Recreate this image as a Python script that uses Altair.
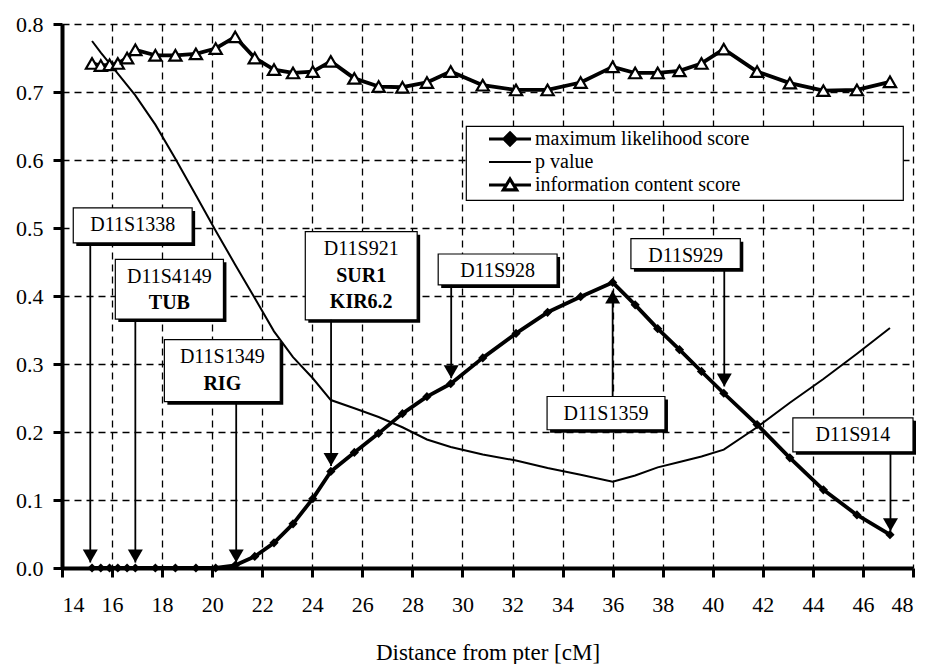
import altair as alt
import pandas as pd

# ---------------- data ----------------
positions_cm = [15.2, 15.55, 15.9, 16.23, 16.6, 16.93, 17.73, 18.53, 19.35, 20.14,
                20.92, 21.7, 22.47, 23.23, 24.02, 24.74, 25.68, 26.65, 27.6, 28.58,
                29.53, 30.81, 32.14, 33.4, 34.72, 36.0, 36.9, 37.8, 38.67, 39.55,
                40.44, 41.77, 43.08, 44.42, 45.76, 47.08]
ml_score = [0, 0, 0, 0, 0, 0, 0, 0, 0, 0,
            0.004, 0.017, 0.037, 0.065, 0.102, 0.142, 0.170, 0.198, 0.227, 0.252,
            0.271, 0.309, 0.345, 0.376, 0.399, 0.420, 0.387, 0.352, 0.321, 0.289,
            0.257, 0.211, 0.162, 0.115, 0.078, 0.049]
p_value = [0.775, 0.758, 0.742, 0.727, 0.710, 0.695, 0.652, 0.602, 0.548, 0.496,
           0.446, 0.397, 0.348, 0.310, 0.279, 0.247, 0.235, 0.222, 0.207, 0.189,
           0.178, 0.167, 0.158, 0.147, 0.137, 0.127, 0.136, 0.148, 0.156, 0.164,
           0.174, 0.207, 0.243, 0.278, 0.315, 0.353]
info_score = [0.742, 0.739, 0.740, 0.742, 0.750, 0.762, 0.754, 0.754, 0.756, 0.764,
              0.781, 0.750, 0.733, 0.728, 0.730, 0.745, 0.720, 0.708, 0.707, 0.714,
              0.730, 0.710, 0.703, 0.703, 0.714, 0.737, 0.728, 0.728, 0.731, 0.742,
              0.763, 0.730, 0.713, 0.702, 0.703, 0.715]

series_names = ["maximum likelihood score", "p value", "information content score"]

# marker annotations (positions in cM / score units)
marker_names = ["D11S1338", "D11S4149", "D11S1349", "D11S921", "D11S928",
                "D11S1359", "D11S929", "D11S914"]
marker_genes = ["", "TUB", "RIG", "SUR1\nKIR6.2", "", "", "", ""]
marker_cm = [15.13, 16.93, 20.96, 24.75, 29.55, 36.0, 40.46, 47.1]
arrow_tip = [0.008, 0.008, 0.008, 0.150, 0.279, 0.408, 0.267, 0.054]
box_left = [14.45, 16.13, 18.09, 23.72, 29.03, 33.38, 36.73, 43.2]
box_right = [19.2, 20.45, 22.72, 28.19, 33.78, 38.09, 41.1, 48.0]
box_top = [0.5295, 0.454, 0.3357, 0.4946, 0.4618, 0.2522, 0.4843, 0.2209]
box_bottom = [0.478, 0.366, 0.2446, 0.365, 0.4163, 0.2033, 0.4402, 0.1709]

x_ticks = list(range(14, 49, 2))
y_ticks = [0.0, 0.1, 0.2, 0.3, 0.4, 0.5, 0.6, 0.7, 0.8]

# ---------------- tables ----------------
n = len(positions_cm)
long_df = pd.DataFrame({
    "cM": positions_cm * 3,
    "value": ml_score + p_value + info_score,
    "series": [series_names[0]] * n + [series_names[1]] * n + [series_names[2]] * n,
})
ml_df = pd.DataFrame({"cM": positions_cm, "value": ml_score})
p_df = pd.DataFrame({"cM": positions_cm, "value": p_value})
info_df = pd.DataFrame({"cM": positions_cm, "value": info_score})

ann = pd.DataFrame({
    "name": marker_names, "genes": marker_genes, "cM": marker_cm, "tip": arrow_tip,
    "left": box_left, "right": box_right, "top": box_top, "bottom": box_bottom,
})
ann["xc"] = (ann["left"] + ann["right"]) / 2
ann["start"] = [b if t < b else tp for t, b, tp in zip(ann["tip"], ann["bottom"], ann["top"])]

FONT = "Liberation Serif"
XTITLE = "Distance from pter [cM]"
xscale = alt.Scale(domain=[14, 48], nice=False, zero=False)
yscale = alt.Scale(domain=[0, 0.8], nice=False)


def X(field):
    return alt.X(f"{field}:Q", scale=xscale,
                 axis=alt.Axis(values=x_ticks, format="d", title=XTITLE))


def Y(field):
    return alt.Y(f"{field}:Q", scale=yscale,
                 axis=alt.Axis(values=y_ticks, format=".1f", title=None))


ml_path = "M-3.5,0L3.5,0M0,-1L1,0L0,1L-1,0Z"
p_path = "M-3.5,0L3.5,0"
ic_path = "M-3.5,0L-0.61,0M0.61,0L3.5,0M0,-1L1.1,0.8L-1.1,0.8Z"

# the legend frame in the figure is much wider than its labels: an invisible
# title on its right side reserves that empty room
legend = alt.Legend(
    title="mmmmmmmmm", titleOrient="right", titleOpacity=0, titleFont=FONT,
    titleFontSize=20, titlePadding=1,
    orient="none", legendX=404, legendY=102,
    fillColor="white", strokeColor="black", padding=3,
    rowPadding=0, labelFont=FONT, labelFontSize=20, labelColor="black",
    labelLimit=1000, symbolSize=144, symbolOffset=31, labelOffset=15,
    symbolOpacity=1,
)

# legend-only layer: no rows drawn, scales with explicit domains drive the legend
legend_layer = alt.Chart(long_df).transform_filter("false").mark_point(
    filled=True, opacity=1
).encode(
    x=X("cM"), y=Y("value"),
    shape=alt.Shape("series:N", scale=alt.Scale(domain=series_names,
                                                 range=[ml_path, p_path, ic_path]),
                    legend=legend),
    fill=alt.Fill("series:N", scale=alt.Scale(domain=series_names,
                                               range=["black", "transparent", "white"]),
                  legend=legend),
    stroke=alt.Stroke("series:N", scale=alt.Scale(domain=series_names,
                                                   range=["black", "black", "black"]),
                      legend=legend),
    strokeWidth=alt.StrokeWidth("series:N",
                                scale=alt.Scale(type="ordinal", domain=series_names,
                                                range=[3.2, 2.0, 3.2]),
                                legend=legend),
)

p_line = alt.Chart(p_df).mark_line(color="black", strokeWidth=2.0).encode(
    x=X("cM"), y=Y("value"))
ml_line = alt.Chart(ml_df).mark_line(color="black", strokeWidth=3.8,
                                     strokeJoin="round").encode(x=X("cM"), y=Y("value"))
info_line = alt.Chart(info_df).mark_line(color="black", strokeWidth=3.8,
                                         strokeJoin="round").encode(x=X("cM"), y=Y("value"))

ml_points = alt.Chart(ml_df).mark_point(
    shape="diamond", filled=True, size=85, color="black", opacity=1
).encode(x=X("cM"), y=Y("value"))

info_points = alt.Chart(info_df).mark_point(
    shape="triangle-up", filled=True, fill="white", stroke="black",
    strokeWidth=2.2, size=150, opacity=1
).encode(x=X("cM"), y=Y("value"))

shadows = alt.Chart(ann).mark_rect(
    fill="black", xOffset=3, x2Offset=3, yOffset=3, y2Offset=3
).encode(x=X("left"), x2="right:Q", y=Y("top"), y2="bottom:Q")

boxes = alt.Chart(ann).mark_rect(
    fill="white", stroke="black", strokeWidth=1.2
).encode(x=X("left"), x2="right:Q", y=Y("top"), y2="bottom:Q")

names_text = alt.Chart(ann).mark_text(
    font=FONT, fontSize=20, baseline="top", align="center", dy=7.5, color="black"
).encode(x=X("xc"), y=Y("top"), text="name:N")

genes_text = alt.Chart(ann).transform_filter("datum.genes != ''").mark_text(
    font=FONT, fontSize=20, fontWeight="bold", baseline="top", align="center",
    dy=34, lineBreak="\n", lineHeight=26.5, color="black"
).encode(x=X("xc"), y=Y("top"), text="genes:N")

arrows = alt.Chart(ann).mark_rule(color="black", strokeWidth=1.8).encode(
    x=X("cM"), y=Y("start"), y2="tip:Q")

heads_down = alt.Chart(ann).transform_filter("datum.tip < datum.start").mark_point(
    shape="triangle-down", filled=True, size=225, color="black", opacity=1, yOffset=-6.5
).encode(x=X("cM"), y=Y("tip"))

heads_up = alt.Chart(ann).transform_filter("datum.tip > datum.start").mark_point(
    shape="triangle-up", filled=True, size=225, color="black", opacity=1, yOffset=6.5
).encode(x=X("cM"), y=Y("tip"))

chart = alt.layer(
    p_line, ml_line, info_line, ml_points, info_points, shadows, boxes,
    names_text, genes_text, arrows, heads_down, heads_up, legend_layer
).properties(
    width=851, height=544,
    padding={"left": 7, "top": 5, "right": 0, "bottom": 0},
).configure(
    font=FONT, background="white"
).configure_view(
    strokeWidth=0
).configure_legend(
    strokeWidth=1.2
).configure_axis(
    domainColor="black", domainWidth=4, tickColor="black", tickWidth=3, tickSize=9,
    labelFont=FONT, labelFontSize=22, labelColor="black",
    grid=True, gridColor="black", gridDash=[7, 5], gridWidth=1.3, gridOpacity=1,
    titleFont=FONT, titleFontSize=23, titleFontWeight="normal", titleColor="black",
).configure_axisX(
    labelPadding=17, titlePadding=26
).configure_axisY(
    labelPadding=10
)

chart.save("out.html", embed_options={"renderer": "svg", "actions": False})
